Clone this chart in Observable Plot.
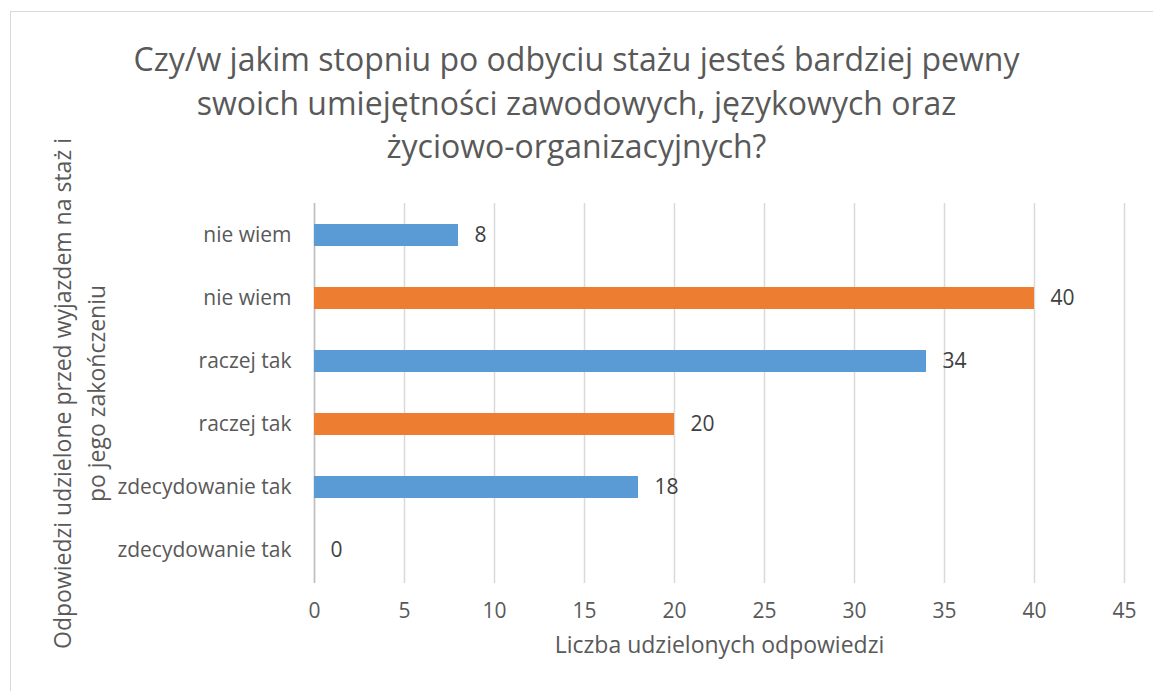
<!DOCTYPE html>
<html>
<head>
<meta charset="utf-8">
<script src="https://cdn.jsdelivr.net/npm/d3@7"></script>
<script src="https://cdn.jsdelivr.net/npm/@observablehq/plot@0.6"></script>
<style>
  html, body { margin: 0; padding: 0; background: #fff; }
  body { width: 1153px; height: 691px; overflow: hidden; position: relative; font-family: "Open Sans", sans-serif; }
  #frame { position: absolute; left: 10px; top: 11px; width: 1160px; height: 700px; border: 1px solid #d9d9d9; box-sizing: border-box; }
  #title { position: absolute; left: 0; top: 37px; width: 1153px; text-align: center; color: #595959; font-size: 32px; line-height: 43.5px; }
  #chart { position: absolute; left: 0; top: 60px; }
</style>
</head>
<body>
<div id="frame"></div>
<div id="title">Czy/w jakim stopniu po odbyciu stażu jesteś bardziej pewny<br>swoich umiejętności zawodowych, językowych oraz<br>życiowo-organizacyjnych?</div>
<div id="chart"></div>
<script>
const categories = ["nie wiem", "nie wiem", "raczej tak", "raczej tak", "zdecydowanie tak", "zdecydowanie tak"];
const values = [8, 40, 34, 20, 18, 0];
const seriesOfRow = ["przed", "po", "przed", "po", "przed", "po"];
const xTicks = [0, 5, 10, 15, 20, 25, 30, 35, 40, 45];
const yTitle1 = "Odpowiedzi udzielone przed wyjazdem na staż i";
const yTitle2 = "po jego zakończeniu";
const xTitle = "Liczba udzielonych odpowiedzi";

const rows = categories.map((c, i) => ({key: i, label: c, value: values[i], series: seriesOfRow[i]}));

const plot = Plot.plot({
  width: 1153,
  height: 631,
  marginLeft: 314,
  marginRight: 29,
  marginTop: 143,
  marginBottom: 108,
  style: {fontFamily: "Open Sans, sans-serif", fontSize: "21px", color: "#595959", background: "transparent"},
  x: {domain: [0, 45], ticks: xTicks, label: null},
  y: {domain: rows.map(d => d.key), paddingInner: 0.65, paddingOuter: 0.3, label: null},
  color: {domain: ["przed", "po"], range: ["#5b9bd5", "#ed7d31"]},
  marks: [
    Plot.gridX(xTicks, {stroke: "#d9d9d9", strokeOpacity: 1, strokeWidth: 1.5}),
    Plot.ruleX([0], {stroke: "#bfbfbf", strokeWidth: 1.5}),
    Plot.barX(rows, {x: "value", y: "key", fill: "series"}),
    Plot.text(rows, {x: "value", y: "key", text: d => String(d.value), textAnchor: "start", dx: 16, fill: "#404040", fontSize: 21}),
    Plot.axisX(xTicks, {tickSize: 0, tickPadding: 20, fill: "#595959", fontSize: 21, label: null}),
    Plot.axisY(rows.map(d => d.key), {tickSize: 0, tickPadding: 23, tickFormat: k => categories[k], fill: "#595959", fontSize: 21, label: null}),
    Plot.text([xTitle], {frameAnchor: "bottom", dy: 69, fill: "#595959", fontSize: 23}),
    Plot.text([yTitle1], {frameAnchor: "left", textAnchor: "middle", rotate: -90, dx: -251, fill: "#595959", fontSize: 23}),
    Plot.text([yTitle2], {frameAnchor: "left", textAnchor: "middle", rotate: -90, dx: -217, fill: "#595959", fontSize: 23})
  ]
});
document.getElementById("chart").appendChild(plot);
</script>
</body>
</html>
